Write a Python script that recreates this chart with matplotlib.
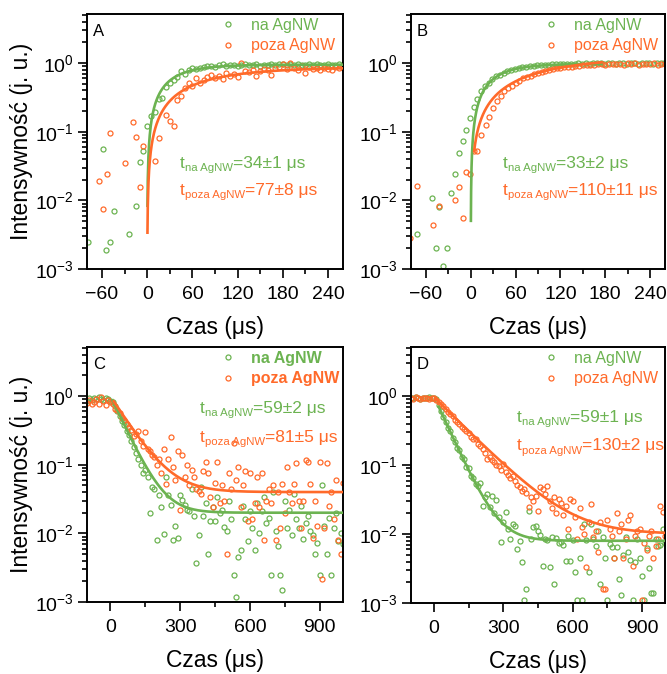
import numpy as np
import matplotlib
matplotlib.use("Agg")
import matplotlib.pyplot as plt
from matplotlib.ticker import MultipleLocator, LogLocator, NullFormatter

plt.rcParams['font.family'] = ['Liberation Sans', 'DejaVu Sans']
plt.rcParams['mathtext.fontset'] = 'custom'
plt.rcParams['mathtext.rm'] = 'Liberation Sans'
plt.rcParams['mathtext.it'] = 'Liberation Sans:italic'
plt.rcParams['mathtext.bf'] = 'Liberation Sans:bold'
plt.rcParams['mathtext.default'] = 'regular'

GREEN = '#6cb351'
ORANGE = '#ff6a2a'

# ---------------- panel A: rise, short pulse ----------------
a_na_t = [-79, -59, -55, -50, -44, -24, -15, -9, -5, 0, 5, 10, 15, 20, 25, 30, 35] + list(range(40, 261, 5))
a_na_y = [0.0025, 0.057, 0.0019, 0.0025, 0.0071, 0.0032, 0.0083, 0.036, 0.053, 0.12,
          0.17, 0.195, 0.30, 0.31, 0.45, 0.51, 0.57,
          0.62, 0.77, 0.70, 0.80, 0.84, 0.83, 0.86, 0.88, 0.90, 0.92,
          0.89, 0.93, 0.96, 0.90, 0.93, 0.95, 0.92, 0.94, 0.96, 0.93,
          0.95, 0.97, 0.92, 0.95, 0.94, 0.97, 0.93, 0.96, 0.98, 0.94,
          0.96, 0.93, 0.97, 0.95, 0.93, 0.96, 0.94, 0.97, 0.95, 0.93,
          0.96, 0.95, 0.94, 0.96, 0.95]
a_poza_t = [-64, -59, -54, -49, -29, -19, -15, -9, -5, 10, 15, 25, 30, 35] + list(range(40, 261, 5))
a_poza_y = [0.019, 0.0076, 0.0245, 0.097, 0.035, 0.141, 0.085, 0.0155, 0.063, 0.038,
            0.081, 0.173, 0.145, 0.12,
            0.29, 0.33, 0.43, 0.51, 0.47, 0.60, 0.52, 0.57, 0.63, 0.68,
            0.60, 0.66, 0.58, 0.72, 0.65, 0.70, 0.62, 1.02, 0.78, 0.74,
            0.80, 0.66, 0.77, 0.83, 0.79, 0.67, 0.85, 0.88, 0.97, 0.82,
            1.00, 0.86, 0.80, 0.90, 0.72, 0.88, 0.82, 0.85, 0.80, 0.86,
            0.83, 0.80, 0.88, 0.84, 0.86]

# ---------------- panel B: rise, long pulse ----------------
b_na_t = [-72, -52, -47, -42, -37, -32, -27, -21, -16, -11, -6, -1, 4, 9, 14] + list(range(19, 260, 5))
b_na_y = [0.0032, 0.0107, 0.0020, 0.008, 0.0011, 0.002, 0.013, 0.0245, 0.049, 0.074,
          0.107, 0.158, 0.23, 0.30, 0.39,
          0.46, 0.52, 0.58, 0.64, 0.68, 0.72, 0.76, 0.80, 0.82, 0.85,
          0.87, 0.88, 0.90, 0.91, 0.93, 0.94, 0.94, 0.95, 0.96, 0.96,
          0.97, 0.97, 0.98, 0.97, 0.98, 0.99, 0.98, 0.99, 0.98, 0.99,
          1.00, 0.99, 0.98, 0.99, 1.00, 0.98, 0.99, 1.01, 0.98, 0.99,
          1.00, 0.98, 0.99, 1.01, 0.99, 0.98, 1.00, 1.02, 0.99]
b_poza_t = [-81, -72, -51, -42, -21, -16, -11, -6, -1, 4, 9, 14, 20, 25, 30, 35, 40, 45] + list(range(50, 261, 5))
b_poza_y = [0.0028, 0.016, 0.0044, 0.0084, 0.0100, 0.0156, 0.0055, 0.026, 0.024, 0.052,
            0.053, 0.091, 0.124, 0.163, 0.22, 0.28, 0.33, 0.39,
            0.43, 0.47, 0.52, 0.55, 0.60, 0.63, 0.66, 0.70, 0.72, 0.75,
            0.78, 0.80, 0.82, 0.84, 0.85, 0.87, 0.88, 0.89, 0.91, 0.92,
            0.93, 0.94, 0.95, 0.95, 0.96, 0.97, 0.95, 0.98, 0.97, 0.96,
            0.98, 0.95, 1.00, 0.97, 0.99, 0.95, 0.98, 0.96, 0.97, 0.99,
            0.95, 0.97, 0.98]

# ---------------- panels C and D: decay, sampled every 10 us ----------------
cd_t = np.arange(-100, 1001, 10)
c_na_y = [0.86, 0.93, 0.88, 0.95, 0.90, 0.97, 0.92, 0.88, 0.95, 0.90,
          0.86, 0.82, 0.72, 0.60, 0.52, 0.44, 0.38, 0.31, 0.27, 0.22,
          0.18, 0.15, 0.12, 0.10, 0.075, 0.085, 0.067, 0.020, 0.048, 0.044,
          0.0079, 0.036, 0.024, 0.0098, 0.067, 0.036, 0.026, 0.0079, 0.013, 0.0085,
          0.036, 0.031, 0.026, 0.022, 0.021, 0.045, 0.018, 0.0037, 0.0095, 0.048,
          0.018, 0.028, 0.005, 0.015, 0.024, 0.015, 0.034, 0.0195, 0.022, 0.0125,
          0.011, 0.030, 0.016, 0.0025, 0.0012, 0.0045, 0.0058, 0.025, 0.016, 0.0078,
          0.021, 0.012, 0.0058, 0.028, 0.010, 0.021, 0.034, 0.014, 0.017, 0.0025,
          0.040, 0.011, 0.0065, 0.0025, 0.0015, 0.030, 0.012, 0.022, 0.0095, 0.038,
          0.016, 0.012, 0.025, 0.0082, 0.014, 0.018, 0.011, 0.0095, 0.005, 0.0073,
          0.0025, 0.050, 0.013, 0.005, 0.017, 0.0025, 0.012, 0.020, 0.0077, 0.010,
          0.007]
c_poza_y = [0.80, 0.87, 0.76, 0.83, 0.91, 0.78, 0.96, 0.85, 0.74, 0.88,
            0.82, 0.78, 0.66, 0.62, 0.56, 0.48, 0.45, 0.39, 0.36, 0.32,
            0.26, 0.28, 0.31, 0.22, 0.19, 0.30, 0.17, 0.16, 0.14, 0.13,
            0.099, 0.12, 0.075, 0.17, 0.053, 0.12, 0.25, 0.094, 0.060, 0.16,
            0.022, 0.14, 0.067, 0.10, 0.050, 0.085, 0.067, 0.045, 0.042, 0.038,
            0.080, 0.11, 0.075, 0.034, 0.024, 0.055, 0.11, 0.028, 0.050, 0.030,
            0.005, 0.075, 0.045, 0.21, 0.060, 0.094, 0.024, 0.050, 0.080, 0.015,
            0.075, 0.016, 0.028, 0.067, 0.024, 0.075, 0.008, 0.030, 0.045, 0.028,
            0.050, 0.008, 0.040, 0.012, 0.052, 0.020, 0.094, 0.040, 0.028, 0.052,
            0.105, 0.030, 0.012, 0.030, 0.117, 0.11, 0.052, 0.0085, 0.030, 0.013,
            0.110, 0.0022, 0.012, 0.105, 0.025, 0.040, 0.016, 0.060, 0.008, 0.005,
            0.055]
d_na_y = [0.96, 0.93, 0.97, 0.94, 0.92, 0.96, 0.95, 0.93, 0.97, 0.94,
          0.95, 0.90, 0.76, 0.62, 0.50, 0.43, 0.35, 0.31, 0.25, 0.22,
          0.18, 0.165, 0.13, 0.125, 0.095, 0.090, 0.070, 0.066, 0.053, 0.050,
          0.056, 0.026, 0.034, 0.038, 0.025, 0.036, 0.020, 0.031, 0.018, 0.0076,
          0.015, 0.021, 0.012, 0.0085, 0.014, 0.013, 0.006, 0.008, 0.0039, 0.0011,
          0.0016, 0.022, 0.0085, 0.0125, 0.013, 0.011, 0.0098, 0.0035, 0.0085, 0.0082,
          0.0033, 0.009, 0.0019, 0.0088, 0.0075, 0.0078, 0.0070, 0.0041, 0.0095, 0.0041,
          0.0082, 0.0028, 0.0011, 0.0045, 0.0011, 0.014, 0.0082, 0.0028, 0.014, 0.0085,
          0.0068, 0.011, 0.0019, 0.009, 0.0045, 0.0011, 0.0072, 0.0065, 0.0045, 0.0065,
          0.0022, 0.0013, 0.0050, 0.0090, 0.0055, 0.0042, 0.0011, 0.0040, 0.0085, 0.0045,
          0.0025, 0.0011, 0.0062, 0.0032, 0.0014, 0.0014, 0.0085, 0.0068, 0.0070, 0.012,
          0.0075]
d_poza_y = [0.95, 0.92, 0.97, 0.94, 0.91, 0.96, 0.93, 0.95, 0.92, 0.96,
            0.95, 0.88, 0.84, 0.78, 0.72, 0.66, 0.60, 0.55, 0.52, 0.46,
            0.43, 0.40, 0.36, 0.33, 0.31, 0.29, 0.26, 0.24, 0.24, 0.20,
            0.19, 0.17, 0.15, 0.125, 0.13, 0.12, 0.11, 0.10, 0.098, 0.085,
            0.105, 0.080, 0.072, 0.066, 0.070, 0.060, 0.052, 0.048, 0.042, 0.045,
            0.040, 0.025, 0.034, 0.030, 0.036, 0.022, 0.048, 0.045, 0.038, 0.050,
            0.030, 0.024, 0.035, 0.020, 0.032, 0.028, 0.019, 0.026, 0.012, 0.032,
            0.030, 0.018, 0.0085, 0.024, 0.0125, 0.010, 0.0033, 0.015, 0.027, 0.009,
            0.011, 0.0055, 0.015, 0.0016, 0.0016, 0.016, 0.012, 0.0095, 0.0045, 0.020,
            0.011, 0.014, 0.0045, 0.0085, 0.016, 0.019, 0.0035, 0.0095, 0.011, 0.012,
            0.0011, 0.0075, 0.0058, 0.0095, 0.011, 0.0045, 0.0068, 0.0085, 0.026, 0.021,
            0.0095]

# ---------------- fitted lifetimes (us) and model parameters ----------------
tau = {'A': (34, 77), 'B': (33, 110), 'C': (59, 81), 'D': (59, 130)}
tau_err = {'A': (1, 8), 'B': (2, 11), 'C': (2, 5), 'D': (1, 2)}
# rise: amp * (1 - exp(-t/tau)), drawn over [t_start, t_end]
rise_fit = {'A': [(0.95, 0.3, 260), (0.87, 0.3, 260)],
            'B': [(0.98, 0.17, 175), (1.29, 4.5, 175)]}
# decay: y0 + amp * exp(-(t - t0)/tau), drawn from t_start to 1000
decay_fit = {'C': [(0.020, 0.85, 10, 10), (0.040, 0.80, 15, 15)],
             'D': [(0.008, 0.98, 0, 20), (0.010, 0.96, 0, 5)]}

labels = ['na AgNW', 'poza AgNW']
sub_labels = ['na AgNW', 'poza AgNW']

W, H = 667, 674
fig = plt.figure(figsize=(W / 100, H / 100), dpi=100)


def ax_at(x0, x1, y0, y1):
    return fig.add_axes([x0 / W, 1 - y1 / H, (x1 - x0) / W, (y1 - y0) / H])


axA = ax_at(87, 343, 14, 269)
axB = ax_at(411, 665, 14, 269)
axC = ax_at(87, 343, 347, 602)
axD = ax_at(411, 665, 347, 603)


def style(ax, xlim, major, minor):
    ax.set_yscale('log')
    ax.set_ylim(1e-3, 5.2)
    ax.set_xlim(*xlim)
    ax.xaxis.set_major_locator(MultipleLocator(major))
    ax.xaxis.set_minor_locator(MultipleLocator(minor))
    ax.yaxis.set_major_locator(LogLocator(base=10, numticks=10))
    ax.yaxis.set_minor_locator(LogLocator(base=10, subs=np.arange(2, 10), numticks=20))
    ax.yaxis.set_minor_formatter(NullFormatter())
    for s in ax.spines.values():
        s.set_linewidth(1.4)
    ax.tick_params(axis='both', which='both', direction='out', width=1.2)
    ax.tick_params(axis='x', which='major', length=6.5, pad=6, labelsize=14)
    ax.tick_params(axis='x', which='minor', length=3.8)
    ax.tick_params(axis='y', which='major', length=6.5, pad=3, labelsize=14)
    ax.tick_params(axis='y', which='minor', length=3.6)
    ax.set_xlabel('Czas (μs)', fontsize=16.5, labelpad=9)


def scatter(ax, t, y, color, label):
    return ax.plot(t, y, linestyle='none', marker='o', markersize=3.6,
                   markerfacecolor='none', markeredgecolor=color,
                   markeredgewidth=0.9, label=label)[0]


def lifetime_label(ax, x, y, sub, value, color):
    base = ax.text(x, y, 't', transform=ax.transAxes, color=color,
                   fontsize=12.5, va='baseline', ha='left')
    s = ax.annotate(sub, xy=(1, 0), xycoords=base, xytext=(0.2, -1.6),
                    textcoords='offset points', color=color, fontsize=8.2,
                    va='bottom', ha='left')
    ax.annotate(value, xy=(1, 0), xycoords=(s, base), xytext=(0.2, 0),
                textcoords='offset points', color=color, fontsize=12.5,
                va='bottom', ha='left')


def legend_and_text(ax, key, handles, lx, ly, tx, ty1, ty2, bold=False):
    ax.legend(handles=handles, loc='upper left', bbox_to_anchor=(lx, ly),
              frameon=False, borderpad=0, borderaxespad=0, handlelength=1.0,
              handletextpad=0.95, labelspacing=0.33,
              prop={'size': 11.5, 'weight': 'bold' if bold else 'normal'},
              labelcolor=[GREEN, ORANGE])
    t1, t2 = tau[key]
    e1, e2 = tau_err[key]
    lifetime_label(ax, tx, ty1, sub_labels[0], f'={t1}±{e1} μs', GREEN)
    lifetime_label(ax, tx, ty2, sub_labels[1], f'={t2}±{e2} μs', ORANGE)
    ax.text(0.022, 0.962, key, transform=ax.transAxes, fontsize=12, va='top', ha='left')


# rise panels
for ax, key, na, poza in [(axA, 'A', (a_na_t, a_na_y), (a_poza_t, a_poza_y)),
                          (axB, 'B', (b_na_t, b_na_y), (b_poza_t, b_poza_y))]:
    style(ax, (-80, 260), 60, 30)
    h1 = scatter(ax, *na, GREEN, labels[0])
    h2 = scatter(ax, *poza, ORANGE, labels[1])
    for (amp, ts, te), tt, c in zip(rise_fit[key], tau[key], (GREEN, ORANGE)):
        tf = np.linspace(ts, te, 600)
        ax.plot(tf, amp * (1 - np.exp(-tf / tt)), color=c, lw=1.9, zorder=3)
    legend_and_text(ax, key, [h1, h2], 0.52, 0.985, 0.362, 0.396, 0.290)

# decay panels
for ax, key, na, poza in [(axC, 'C', c_na_y, c_poza_y), (axD, 'D', d_na_y, d_poza_y)]:
    style(ax, (-100, 1000), 300, 150)
    h1 = scatter(ax, cd_t, na, GREEN, labels[0])
    h2 = scatter(ax, cd_t, poza, ORANGE, labels[1])
    for (y0, amp, t0, ts), tt, c in zip(decay_fit[key], tau[key], (GREEN, ORANGE)):
        tf = np.linspace(ts, 1000, 600)
        ax.plot(tf, y0 + amp * np.exp(-(tf - t0) / tt), color=c, lw=1.9, zorder=3)

legend_and_text(axC, 'C', axC.get_lines()[:2], 0.52, 0.985, 0.441, 0.741, 0.627, bold=True)
legend_and_text(axD, 'D', axD.get_lines()[:2], 0.52, 0.985, 0.417, 0.706, 0.596)

for ax in (axA, axC):
    ax.set_ylabel('Intensywność (j. u.)', fontsize=16.5)
    ax.yaxis.set_label_coords(-0.21, 0.5)

fig.savefig('out.png', dpi=100)
